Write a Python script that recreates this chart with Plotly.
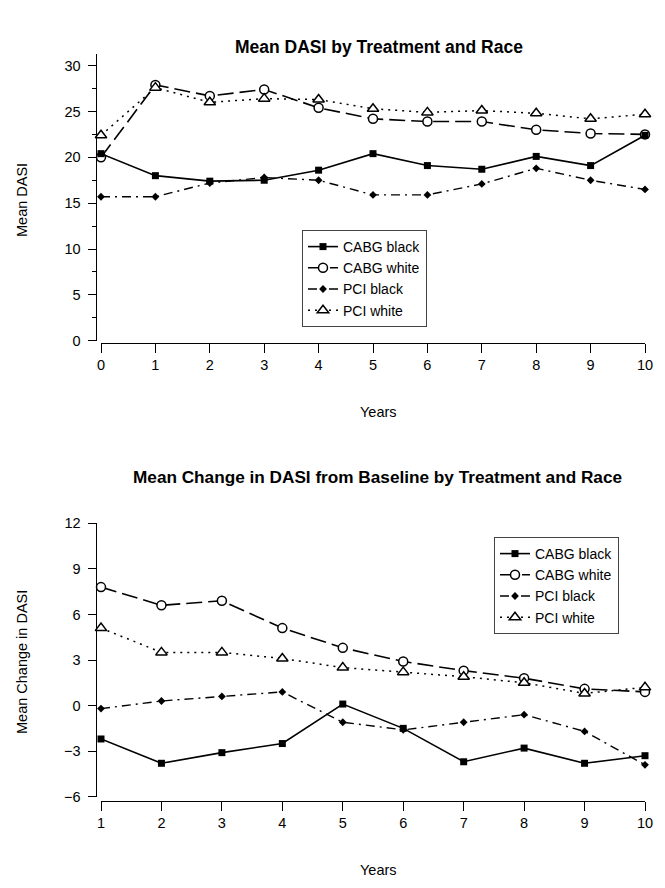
import plotly.graph_objects as go

W, H = 665, 888

# ---------------- data ----------------
years_top = [0, 1, 2, 3, 4, 5, 6, 7, 8, 9, 10]
cabg_black_top = [20.4, 18.0, 17.4, 17.5, 18.6, 20.4, 19.1, 18.7, 20.1, 19.1, 22.4]
cabg_white_top = [20.0, 27.9, 26.7, 27.4, 25.4, 24.2, 23.9, 23.9, 23.0, 22.6, 22.5]
pci_black_top = [15.7, 15.7, 17.2, 17.8, 17.5, 15.9, 15.9, 17.1, 18.8, 17.5, 16.5]
pci_white_top = [22.4, 27.6, 26.0, 26.4, 26.3, 25.3, 24.9, 25.1, 24.8, 24.2, 24.7]

years_bot = [1, 2, 3, 4, 5, 6, 7, 8, 9, 10]
cabg_black_bot = [-2.2, -3.8, -3.1, -2.5, 0.1, -1.5, -3.7, -2.8, -3.8, -3.3]
cabg_white_bot = [7.8, 6.6, 6.9, 5.1, 3.8, 2.9, 2.3, 1.8, 1.1, 0.9]
pci_black_bot = [-0.2, 0.3, 0.6, 0.9, -1.1, -1.6, -1.1, -0.6, -1.7, -3.9]
pci_white_bot = [5.1, 3.5, 3.5, 3.1, 2.5, 2.2, 1.9, 1.5, 0.8, 1.2]

top_yticks = [0, 5, 10, 15, 20, 25, 30]
bot_yticks = [-6, -3, 0, 3, 6, 9, 12]

names = ["CABG black", "CABG white", "PCI black", "PCI white"]
# --------------------------------------

FONT = "Liberation Sans, Arial, Helvetica, sans-serif"

def px_x(x):
    return x / W

def px_y(y):
    return 1 - y / H

styles = [
    dict(line=dict(color="black", width=1.6, dash="solid"),
         marker=dict(symbol="square", size=7, color="black")),
    dict(line=dict(color="black", width=1.6, dash="16px,6px"),
         marker=dict(symbol="circle", size=9, color="white",
                     line=dict(color="black", width=1.5))),
    dict(line=dict(color="black", width=1.4, dash="9px,5px,2px,5px"),
         marker=dict(symbol="diamond", size=6, color="black")),
    dict(line=dict(color="black", width=1.5, dash="2px,5px"),
         marker=dict(symbol="triangle-up", size=10, color="white",
                     line=dict(color="black", width=1.5))),
]

# drawing order: CABG white under CABG black (legend order kept via legendrank)
draw_order = [1, 0, 2, 3]

fig = go.Figure()

top_series = [cabg_black_top, cabg_white_top, pci_black_top, pci_white_top]
bot_series = [cabg_black_bot, cabg_white_bot, pci_black_bot, pci_white_bot]

for i in draw_order:
    st = styles[i]
    fig.add_trace(go.Scatter(x=years_top, y=top_series[i], name=names[i],
                             mode="lines+markers", line=st["line"],
                             marker=st["marker"], xaxis="x", yaxis="y",
                             legend="legend", legendrank=i + 1,
                             cliponaxis=False))
for i in draw_order:
    st = styles[i]
    fig.add_trace(go.Scatter(x=years_bot, y=bot_series[i], name=names[i],
                             mode="lines+markers", line=st["line"],
                             marker=st["marker"], xaxis="x2", yaxis="y2",
                             legend="legend2", legendrank=i + 1,
                             cliponaxis=False))

axis_common = dict(showgrid=False, zeroline=False, showline=True,
                   linecolor="black", linewidth=1, ticks="outside",
                   tickcolor="black", tickwidth=1, automargin=False,
                   tickfont=dict(family=FONT, size=14.5, color="black"))

x_dom = [px_x(101), px_x(645)]

fig.update_layout(
    width=W, height=H,
    margin=dict(l=0, r=0, t=0, b=0, autoexpand=False),
    paper_bgcolor="white", plot_bgcolor="white",
    font=dict(family=FONT, color="black"),
    xaxis=dict(domain=x_dom, range=[0, 10], tickvals=years_top,
               anchor="free", position=px_y(342.7), ticklen=9,
               **axis_common),
    yaxis=dict(domain=[px_y(340.7), px_y(54)], range=[0, 31.27],
               tickvals=top_yticks, anchor="free", position=px_x(95.5),
               ticklen=8, ticklabelstandoff=4,
               minor=dict(dtick=2.5, tick0=0, ticklen=4, ticks="outside",
                          tickcolor="black", tickwidth=1),
               **axis_common),
    xaxis2=dict(domain=x_dom, range=[1, 10], tickvals=years_bot,
                anchor="free", position=px_y(800.7), ticklen=9,
                **axis_common),
    yaxis2=dict(domain=[px_y(796.7), px_y(523.3)], range=[-6, 12],
                tickvals=bot_yticks, anchor="free", position=px_x(95.5),
                ticklen=8, ticklabelstandoff=4,
                **axis_common),
    legend=dict(x=px_x(302), y=px_y(230), xanchor="left", yanchor="top",
                bordercolor="#444", borderwidth=1, bgcolor="white",
                font=dict(family=FONT, size=14, color="black"),
                tracegroupgap=0, traceorder="normal"),
    legend2=dict(x=px_x(494), y=px_y(537), xanchor="left", yanchor="top",
                 bordercolor="#444", borderwidth=1, bgcolor="white",
                 font=dict(family=FONT, size=14, color="black"),
                 tracegroupgap=0, traceorder="normal"),
    showlegend=True,
    hovermode=False,
)

annotations = [
    dict(text="<b>Mean DASI by Treatment and Race</b>", x=px_x(379), y=px_y(47),
         font=dict(size=17.5, family=FONT)),
    dict(text="<b>Mean Change in DASI from Baseline by Treatment and Race</b>",
         x=px_x(377), y=px_y(477), font=dict(size=17.2, family=FONT)),
    dict(text="Years", x=px_x(378), y=px_y(412), font=dict(size=14.5, family=FONT)),
    dict(text="Years", x=px_x(378), y=px_y(870), font=dict(size=14.5, family=FONT)),
    dict(text="Mean DASI", x=px_x(22), y=px_y(200), textangle=-90,
         font=dict(size=14.5, family=FONT)),
    dict(text="Mean Change in DASI", x=px_x(22), y=px_y(662), textangle=-90,
         font=dict(size=14.5, family=FONT)),
]
for a in annotations:
    a.update(xref="paper", yref="paper", showarrow=False,
             xanchor="center", yanchor="middle")
    a["font"]["color"] = "black"
fig.update_layout(annotations=annotations)

fig.write_html("out.html",
               config={"displayModeBar": False},
               post_script="document.body.style.margin='0px';"
                           "document.body.style.overflow='hidden';")
